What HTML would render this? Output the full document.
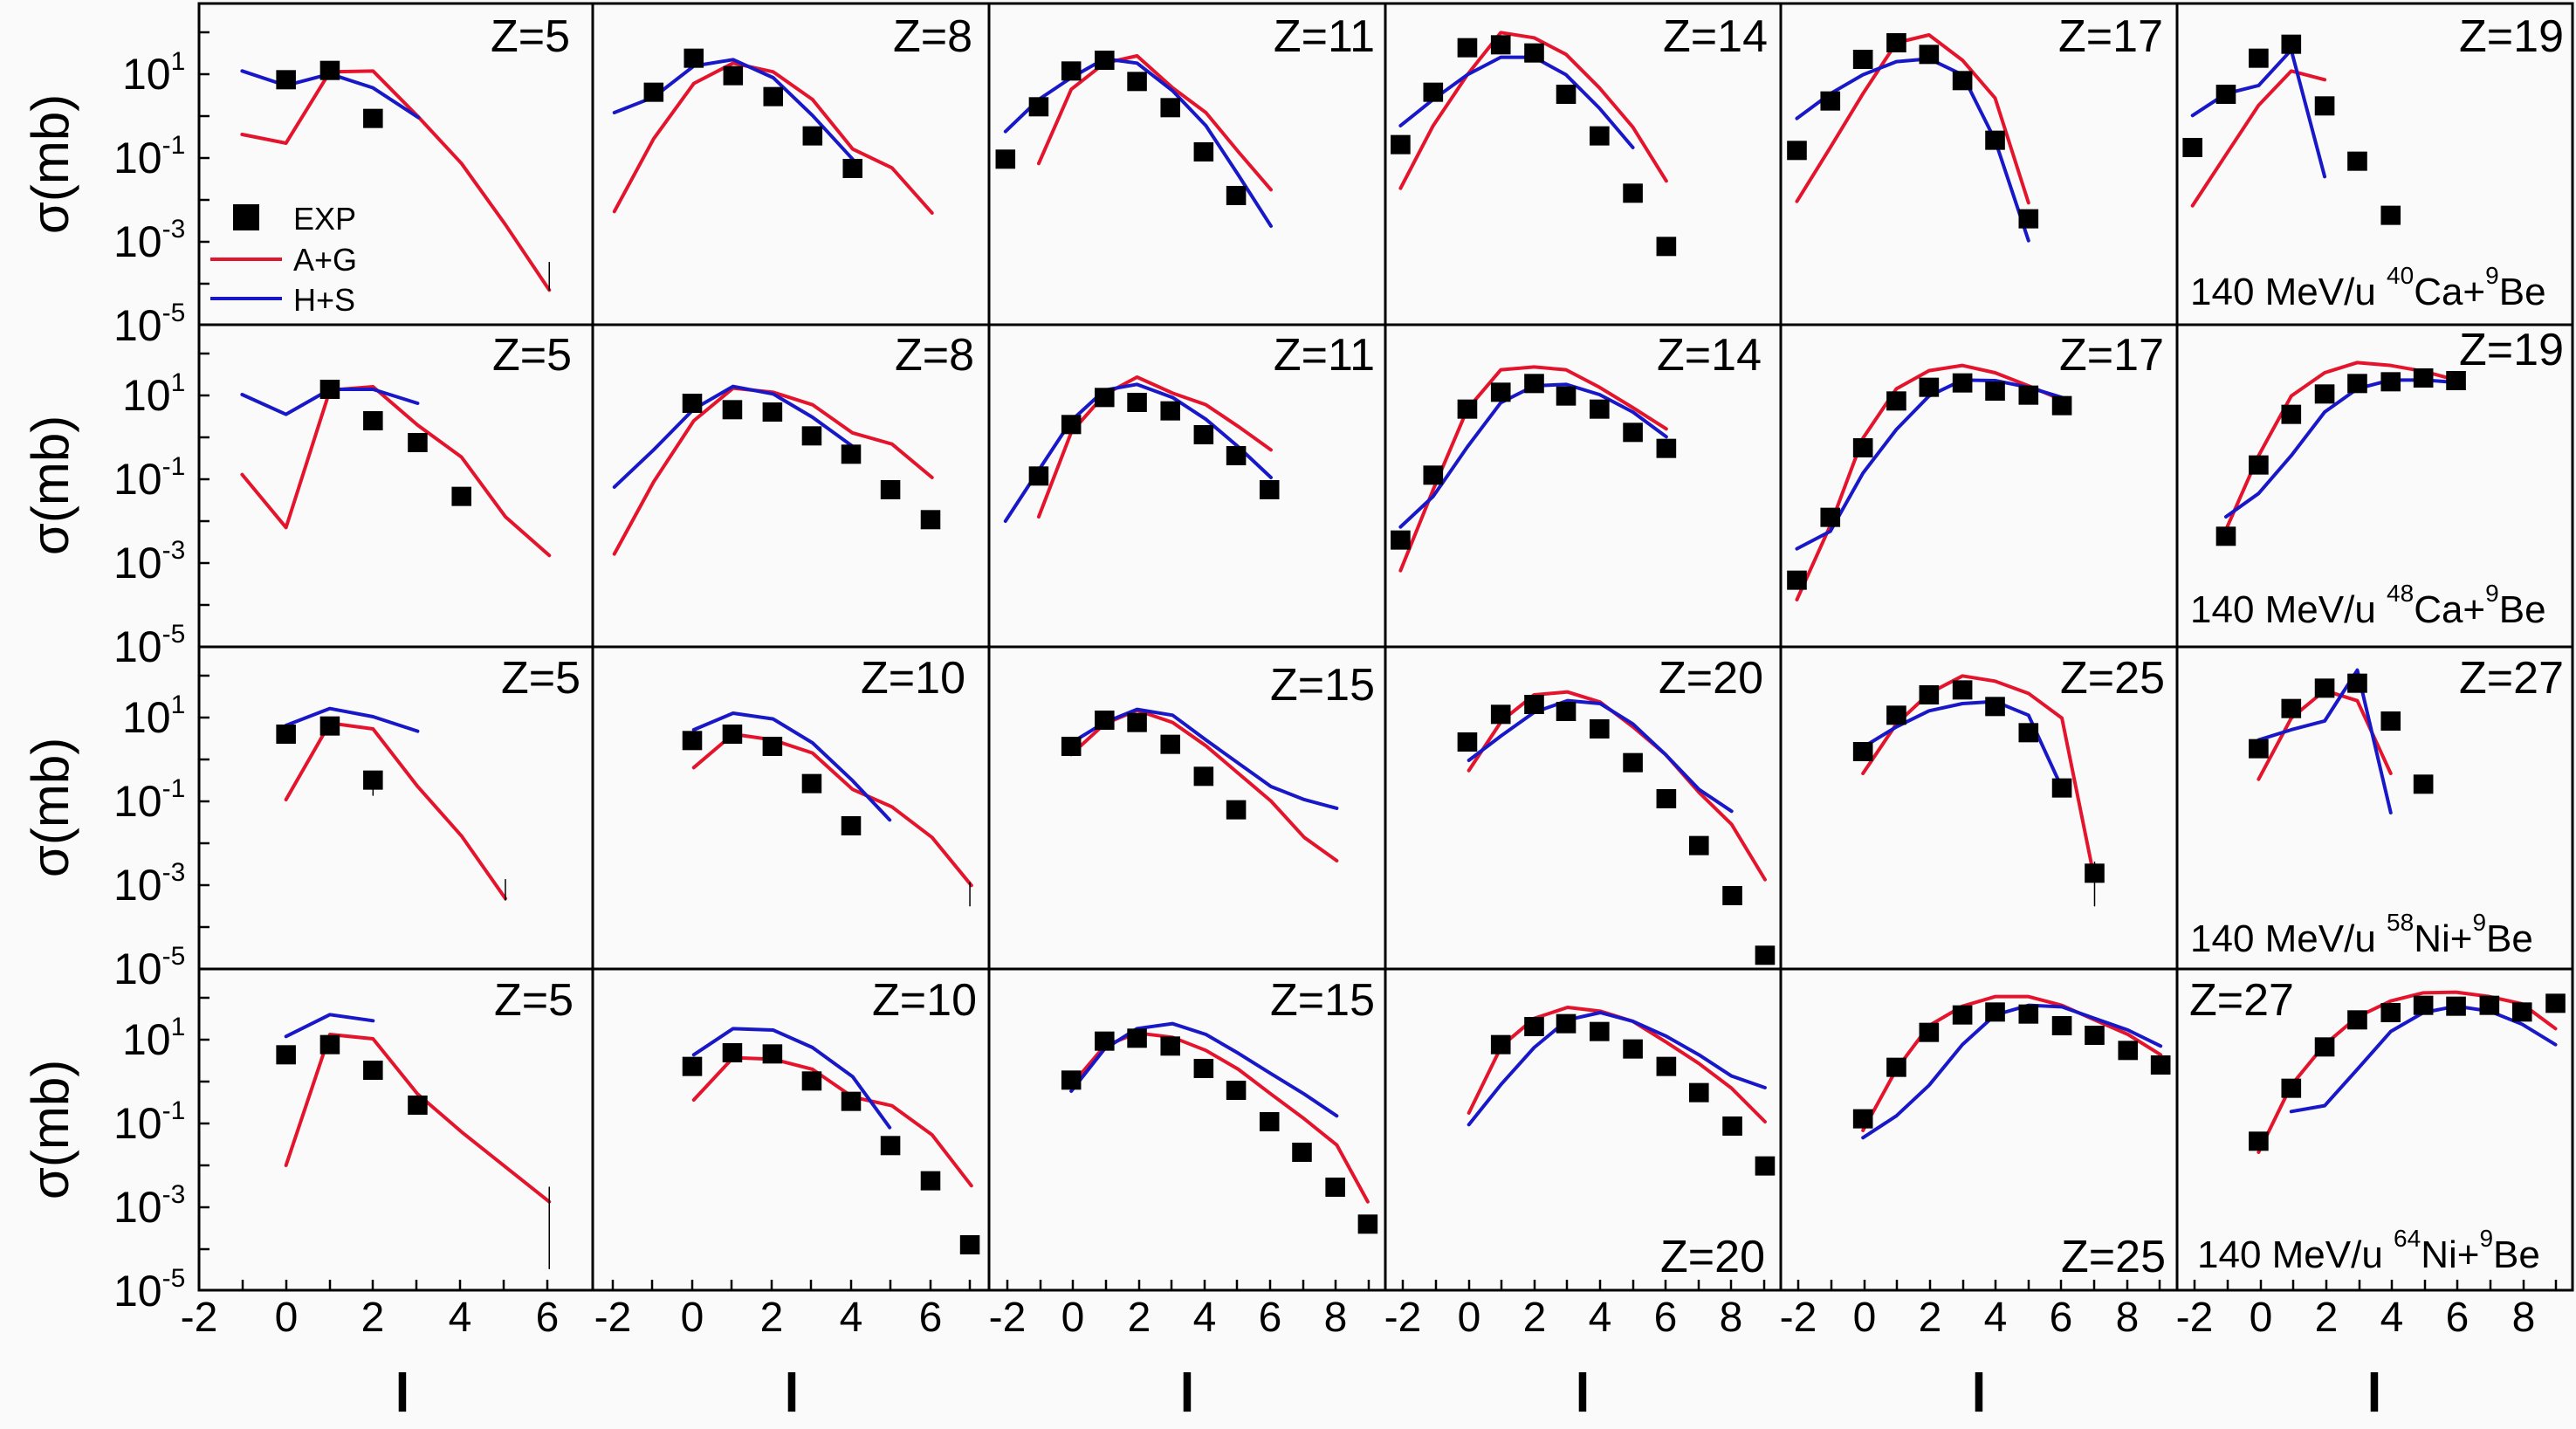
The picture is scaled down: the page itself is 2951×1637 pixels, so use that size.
<!DOCTYPE html>
<html><head><meta charset="utf-8"><style>
html,body{margin:0;padding:0;background:#fafafa;}
svg{display:block;}
text{font-family:"Liberation Sans",Arial,sans-serif;fill:#000;}
</style></head><body>
<svg width="2951" height="1637" viewBox="0 0 2951 1637" xmlns="http://www.w3.org/2000/svg">
<defs>
<rect id="sq" x="-13" y="-33" width="26" height="66" fill="#000"/>
</defs>
<rect x="0" y="0" width="2951" height="1637" fill="#fafafa"/>
<g fill="none" stroke-linejoin="round" stroke-linecap="round">
<g transform="translate(228,4) scale(0.8666,0.3333)">
<polyline vector-effect="non-scaling-stroke" stroke="#e3142c" stroke-width="4" points="57,450 115,480 173,235 230,232 290,390 347,550 405,760 463,985"/>
<polyline vector-effect="non-scaling-stroke" stroke="#1818c8" stroke-width="4" points="57,232 115,282 173,242 230,290 290,392"/>
<line vector-effect="non-scaling-stroke" stroke="#000" stroke-width="1.5" x1="463" y1="890" x2="463" y2="985"/>
<polyline vector-effect="non-scaling-stroke" stroke="#e3142c" stroke-width="4" points="549,715 601,465 654,275 706,205 759,235 811,330 864,500 916,565 969,720"/>
<polyline vector-effect="non-scaling-stroke" stroke="#1818c8" stroke-width="4" points="549,375 601,322 654,215 706,193 759,255 811,385 864,535"/>
<polyline vector-effect="non-scaling-stroke" stroke="#e3142c" stroke-width="4" points="1110,550 1153,295 1197,205 1240,180 1287,290 1331,375 1374,510 1417,640"/>
<polyline vector-effect="non-scaling-stroke" stroke="#1818c8" stroke-width="4" points="1066,440 1110,330 1153,255 1197,190 1240,205 1287,300 1331,420 1374,590 1417,765"/>
<g stroke="none">
<use href="#sq" x="115" y="262"/><use href="#sq" x="173" y="230"/><use href="#sq" x="230" y="395"/>
<use href="#sq" x="601" y="305"/><use href="#sq" x="654" y="188"/><use href="#sq" x="706" y="248"/><use href="#sq" x="759" y="320"/><use href="#sq" x="811" y="455"/><use href="#sq" x="864" y="567"/>
<use href="#sq" x="1066" y="535"/><use href="#sq" x="1110" y="355"/><use href="#sq" x="1153" y="232"/><use href="#sq" x="1197" y="195"/><use href="#sq" x="1240" y="268"/><use href="#sq" x="1284" y="358"/><use href="#sq" x="1328" y="510"/><use href="#sq" x="1371" y="660"/>
</g>
</g>
<g transform="translate(1587,4) scale(0.8699,0.3333)">
<polyline vector-effect="non-scaling-stroke" stroke="#e3142c" stroke-width="4" points="20,635 63,420 108,245 152,100 196,118 238,175 282,290 326,425 370,610"/>
<polyline vector-effect="non-scaling-stroke" stroke="#1818c8" stroke-width="4" points="20,420 63,330 108,245 152,185 196,185 238,245 282,360 326,495"/>
<polyline vector-effect="non-scaling-stroke" stroke="#e3142c" stroke-width="4" points="542,680 586,495 629,310 673,135 716,108 760,195 803,325 847,685"/>
<polyline vector-effect="non-scaling-stroke" stroke="#1818c8" stroke-width="4" points="542,395 586,310 629,245 673,200 716,190 760,245 803,470 847,815"/>
<polyline vector-effect="non-scaling-stroke" stroke="#e3142c" stroke-width="4" points="1063,695 1107,520 1150,350 1193,232 1237,262"/>
<polyline vector-effect="non-scaling-stroke" stroke="#1818c8" stroke-width="4" points="1063,385 1107,310 1150,282 1193,160 1237,595"/>
<g stroke="none">
<use href="#sq" x="20" y="485"/><use href="#sq" x="63" y="305"/><use href="#sq" x="108" y="152"/><use href="#sq" x="152" y="142"/><use href="#sq" x="196" y="170"/><use href="#sq" x="238" y="312"/><use href="#sq" x="282" y="455"/><use href="#sq" x="326" y="652"/><use href="#sq" x="370" y="835"/>
<use href="#sq" x="542" y="505"/><use href="#sq" x="586" y="335"/><use href="#sq" x="629" y="192"/><use href="#sq" x="673" y="135"/><use href="#sq" x="716" y="175"/><use href="#sq" x="760" y="265"/><use href="#sq" x="803" y="470"/><use href="#sq" x="847" y="740"/>
<use href="#sq" x="1063" y="495"/><use href="#sq" x="1107" y="312"/><use href="#sq" x="1150" y="188"/><use href="#sq" x="1193" y="140"/><use href="#sq" x="1237" y="352"/><use href="#sq" x="1280" y="542"/><use href="#sq" x="1324" y="728"/>
</g>
</g>
<g transform="translate(228,372) scale(0.8666,0.3333)">
<polyline vector-effect="non-scaling-stroke" stroke="#e3142c" stroke-width="4" points="57,515 115,697 173,225 230,213 289,345 347,455 405,660 463,793"/>
<polyline vector-effect="non-scaling-stroke" stroke="#1818c8" stroke-width="4" points="57,240 115,308 173,222 230,222 289,270"/>
<polyline vector-effect="non-scaling-stroke" stroke="#e3142c" stroke-width="4" points="549,788 601,540 654,330 706,218 759,232 811,275 864,372 916,410 969,525"/>
<polyline vector-effect="non-scaling-stroke" stroke="#1818c8" stroke-width="4" points="549,558 601,430 654,290 706,212 759,238 811,318 864,418"/>
<polyline vector-effect="non-scaling-stroke" stroke="#e3142c" stroke-width="4" points="1110,660 1153,370 1197,240 1240,180 1287,235 1331,275 1374,350 1417,430"/>
<polyline vector-effect="non-scaling-stroke" stroke="#1818c8" stroke-width="4" points="1066,675 1110,500 1153,330 1197,225 1240,205 1287,250 1331,325 1374,420 1417,525"/>
<g stroke="none">
<use href="#sq" x="173" y="222"/><use href="#sq" x="230" y="330"/><use href="#sq" x="289" y="405"/><use href="#sq" x="347" y="590"/>
<use href="#sq" x="652" y="270"/><use href="#sq" x="705" y="292"/><use href="#sq" x="758" y="300"/><use href="#sq" x="810" y="382"/><use href="#sq" x="862" y="445"/><use href="#sq" x="914" y="567"/><use href="#sq" x="967" y="670"/>
<use href="#sq" x="1110" y="520"/><use href="#sq" x="1153" y="343"/><use href="#sq" x="1197" y="250"/><use href="#sq" x="1240" y="267"/><use href="#sq" x="1284" y="296"/><use href="#sq" x="1328" y="378"/><use href="#sq" x="1371" y="450"/><use href="#sq" x="1415" y="567"/>
</g>
</g>
<g transform="translate(1587,372) scale(0.8699,0.3333)">
<polyline vector-effect="non-scaling-stroke" stroke="#e3142c" stroke-width="4" points="20,845 63,567 108,290 152,155 196,145 238,155 282,215 326,285 370,358"/>
<polyline vector-effect="non-scaling-stroke" stroke="#1818c8" stroke-width="4" points="20,695 63,590 108,420 152,268 196,210 238,205 282,240 326,300 370,385"/>
<polyline vector-effect="non-scaling-stroke" stroke="#e3142c" stroke-width="4" points="542,945 586,690 629,390 673,220 716,158 760,140 803,165 847,210 891,258"/>
<polyline vector-effect="non-scaling-stroke" stroke="#1818c8" stroke-width="4" points="542,770 586,710 629,510 673,360 716,245 760,190 803,192 847,215 891,250"/>
<polyline vector-effect="non-scaling-stroke" stroke="#e3142c" stroke-width="4" points="1107,705 1150,450 1193,245 1237,165 1280,130 1324,140 1367,160 1410,190"/>
<polyline vector-effect="non-scaling-stroke" stroke="#1818c8" stroke-width="4" points="1107,660 1150,580 1193,450 1237,300 1280,220 1324,190 1367,190 1410,198"/>
<g stroke="none">
<use href="#sq" x="20" y="740"/><use href="#sq" x="63" y="517"/><use href="#sq" x="108" y="290"/><use href="#sq" x="152" y="232"/><use href="#sq" x="196" y="202"/><use href="#sq" x="238" y="245"/><use href="#sq" x="282" y="290"/><use href="#sq" x="326" y="370"/><use href="#sq" x="370" y="425"/>
<use href="#sq" x="542" y="878"/><use href="#sq" x="586" y="662"/><use href="#sq" x="629" y="423"/><use href="#sq" x="673" y="262"/><use href="#sq" x="716" y="215"/><use href="#sq" x="760" y="200"/><use href="#sq" x="803" y="228"/><use href="#sq" x="847" y="242"/><use href="#sq" x="891" y="278"/>
<use href="#sq" x="1107" y="727"/><use href="#sq" x="1150" y="482"/><use href="#sq" x="1193" y="308"/><use href="#sq" x="1237" y="238"/><use href="#sq" x="1280" y="202"/><use href="#sq" x="1324" y="196"/><use href="#sq" x="1367" y="183"/><use href="#sq" x="1410" y="192"/>
</g>
</g>
<g transform="translate(228,741) scale(0.8666,0.3333)">
<polyline vector-effect="non-scaling-stroke" stroke="#e3142c" stroke-width="4" points="115,525 173,262 230,282 289,480 347,650 405,865"/>
<polyline vector-effect="non-scaling-stroke" stroke="#1818c8" stroke-width="4" points="115,270 173,212 230,240 289,290"/>
<line vector-effect="non-scaling-stroke" stroke="#000" stroke-width="1.5" x1="405" y1="800" x2="405" y2="870"/>
<line vector-effect="non-scaling-stroke" stroke="#000" stroke-width="1.5" x1="230" y1="458" x2="230" y2="510"/>
<polyline vector-effect="non-scaling-stroke" stroke="#e3142c" stroke-width="4" points="654,415 706,300 759,320 811,365 864,490 916,550 969,655 1021,820"/>
<polyline vector-effect="non-scaling-stroke" stroke="#1818c8" stroke-width="4" points="654,285 706,228 759,248 811,330 864,460 913,595"/>
<line vector-effect="non-scaling-stroke" stroke="#000" stroke-width="1.5" x1="1019" y1="810" x2="1019" y2="890"/>
<polyline vector-effect="non-scaling-stroke" stroke="#e3142c" stroke-width="4" points="1153,370 1197,265 1240,218 1287,260 1331,340 1374,435 1417,530 1461,655 1504,735"/>
<polyline vector-effect="non-scaling-stroke" stroke="#1818c8" stroke-width="4" points="1153,330 1197,260 1240,215 1287,235 1331,320 1374,400 1417,480 1461,525 1504,555"/>
<g stroke="none">
<use href="#sq" x="115" y="300"/><use href="#sq" x="173" y="272"/><use href="#sq" x="230" y="458"/>
<use href="#sq" x="652" y="322"/><use href="#sq" x="705" y="300"/><use href="#sq" x="758" y="342"/><use href="#sq" x="810" y="470"/><use href="#sq" x="862" y="615"/>
<use href="#sq" x="1153" y="342"/><use href="#sq" x="1197" y="252"/><use href="#sq" x="1240" y="260"/><use href="#sq" x="1284" y="335"/><use href="#sq" x="1328" y="445"/><use href="#sq" x="1371" y="560"/>
</g>
</g>
<g transform="translate(1587,741) scale(0.8699,0.3333)">
<polyline vector-effect="non-scaling-stroke" stroke="#e3142c" stroke-width="4" points="110,425 153,255 196,165 240,155 283,190 326,275 369,370 413,500 456,610 500,800"/>
<polyline vector-effect="non-scaling-stroke" stroke="#1818c8" stroke-width="4" points="110,390 153,305 196,225 240,185 283,195 326,265 369,370 413,490 456,565"/>
<polyline vector-effect="non-scaling-stroke" stroke="#e3142c" stroke-width="4" points="629,435 673,265 716,160 760,100 803,118 847,160 891,245 934,800"/>
<polyline vector-effect="non-scaling-stroke" stroke="#1818c8" stroke-width="4" points="629,345 673,275 716,220 760,195 803,188 847,235 891,485"/>
<line vector-effect="non-scaling-stroke" stroke="#000" stroke-width="1.5" x1="934" y1="740" x2="934" y2="890"/>
<polyline vector-effect="non-scaling-stroke" stroke="#e3142c" stroke-width="4" points="1150,455 1193,245 1237,150 1280,185 1324,435"/>
<polyline vector-effect="non-scaling-stroke" stroke="#1818c8" stroke-width="4" points="1150,320 1193,285 1237,255 1280,80 1324,570"/>
<g stroke="none">
<use href="#sq" x="108" y="327"/><use href="#sq" x="152" y="232"/><use href="#sq" x="196" y="198"/><use href="#sq" x="238" y="222"/><use href="#sq" x="282" y="282"/><use href="#sq" x="326" y="398"/><use href="#sq" x="370" y="522"/><use href="#sq" x="413" y="683"/><use href="#sq" x="457" y="855"/><use href="#sq" x="500" y="1060"/>
<use href="#sq" x="629" y="360"/><use href="#sq" x="673" y="235"/><use href="#sq" x="716" y="165"/><use href="#sq" x="760" y="148"/><use href="#sq" x="803" y="205"/><use href="#sq" x="847" y="295"/><use href="#sq" x="891" y="485"/><use href="#sq" x="934" y="778"/>
<use href="#sq" x="1150" y="350"/><use href="#sq" x="1193" y="212"/><use href="#sq" x="1237" y="142"/><use href="#sq" x="1280" y="125"/><use href="#sq" x="1324" y="255"/><use href="#sq" x="1367" y="472"/>
</g>
</g>
<g transform="translate(228,1110) scale(0.8666,0.3333)">
<polyline vector-effect="non-scaling-stroke" stroke="#e3142c" stroke-width="4" points="115,675 173,225 230,240 289,430 347,560 405,680 463,800"/>
<polyline vector-effect="non-scaling-stroke" stroke="#1818c8" stroke-width="4" points="115,232 173,157 230,178"/>
<line vector-effect="non-scaling-stroke" stroke="#000" stroke-width="1.5" x1="463" y1="750" x2="463" y2="1030"/>
<polyline vector-effect="non-scaling-stroke" stroke="#e3142c" stroke-width="4" points="654,450 706,305 759,310 811,345 864,440 916,470 969,570 1021,745"/>
<polyline vector-effect="non-scaling-stroke" stroke="#1818c8" stroke-width="4" points="654,295 706,205 759,210 811,270 864,370 913,545"/>
<polyline vector-effect="non-scaling-stroke" stroke="#e3142c" stroke-width="4" points="1153,400 1197,265 1240,220 1287,235 1331,280 1374,345 1417,430 1461,515 1504,605 1545,800"/>
<polyline vector-effect="non-scaling-stroke" stroke="#1818c8" stroke-width="4" points="1153,420 1197,275 1240,205 1287,188 1331,225 1374,290 1417,360 1461,430 1504,505"/>
<g stroke="none">
<use href="#sq" x="115" y="295"/><use href="#sq" x="173" y="260"/><use href="#sq" x="230" y="348"/><use href="#sq" x="289" y="468"/>
<use href="#sq" x="652" y="335"/><use href="#sq" x="705" y="288"/><use href="#sq" x="758" y="292"/><use href="#sq" x="810" y="385"/><use href="#sq" x="862" y="455"/><use href="#sq" x="914" y="607"/><use href="#sq" x="967" y="728"/><use href="#sq" x="1019" y="948"/>
<use href="#sq" x="1153" y="382"/><use href="#sq" x="1197" y="248"/><use href="#sq" x="1240" y="238"/><use href="#sq" x="1284" y="265"/><use href="#sq" x="1328" y="342"/><use href="#sq" x="1371" y="417"/><use href="#sq" x="1415" y="525"/><use href="#sq" x="1458" y="630"/><use href="#sq" x="1502" y="750"/><use href="#sq" x="1545" y="877"/>
</g>
</g>
<g transform="translate(1587,1110) scale(0.8699,0.3333)">
<polyline vector-effect="non-scaling-stroke" stroke="#e3142c" stroke-width="4" points="110,495 153,265 196,170 240,132 283,145 326,180 369,250 413,325 456,410 500,525"/>
<polyline vector-effect="non-scaling-stroke" stroke="#1818c8" stroke-width="4" points="110,535 153,395 196,270 240,175 283,150 326,180 369,230 413,295 456,368 500,408"/>
<polyline vector-effect="non-scaling-stroke" stroke="#e3142c" stroke-width="4" points="629,555 673,345 716,195 760,128 803,95 847,95 891,125 934,175 978,225 1021,295"/>
<polyline vector-effect="non-scaling-stroke" stroke="#1818c8" stroke-width="4" points="629,580 673,505 716,400 760,260 803,158 847,125 891,130 934,170 978,210 1021,265"/>
<polyline vector-effect="non-scaling-stroke" stroke="#e3142c" stroke-width="4" points="1150,630 1193,400 1237,260 1280,165 1324,110 1367,82 1410,80 1454,95 1497,120 1541,205"/>
<polyline vector-effect="non-scaling-stroke" stroke="#1818c8" stroke-width="4" points="1193,490 1237,470 1280,345 1324,215 1367,150 1410,128 1454,145 1497,190 1541,260"/>
<g stroke="none">
<use href="#sq" x="152" y="260"/><use href="#sq" x="196" y="198"/><use href="#sq" x="238" y="188"/><use href="#sq" x="282" y="215"/><use href="#sq" x="326" y="275"/><use href="#sq" x="370" y="335"/><use href="#sq" x="413" y="425"/><use href="#sq" x="457" y="540"/><use href="#sq" x="500" y="677"/>
<use href="#sq" x="629" y="515"/><use href="#sq" x="673" y="338"/><use href="#sq" x="716" y="218"/><use href="#sq" x="760" y="158"/><use href="#sq" x="803" y="148"/><use href="#sq" x="847" y="155"/><use href="#sq" x="891" y="195"/><use href="#sq" x="934" y="228"/><use href="#sq" x="978" y="280"/><use href="#sq" x="1021" y="330"/>
<use href="#sq" x="1150" y="592"/><use href="#sq" x="1193" y="410"/><use href="#sq" x="1237" y="268"/><use href="#sq" x="1280" y="175"/><use href="#sq" x="1324" y="150"/><use href="#sq" x="1367" y="125"/><use href="#sq" x="1410" y="128"/><use href="#sq" x="1454" y="125"/><use href="#sq" x="1497" y="148"/><use href="#sq" x="1541" y="118"/>
</g>
</g>
</g>

<g stroke="#000" stroke-width="3" fill="none">
<rect x="228" y="4" width="2719" height="1474"/>
<line x1="679" y1="4" x2="679" y2="1478"/>
<line x1="1133" y1="4" x2="1133" y2="1478"/>
<line x1="1587" y1="4" x2="1587" y2="1478"/>
<line x1="2040" y1="4" x2="2040" y2="1478"/>
<line x1="2494" y1="4" x2="2494" y2="1478"/>
<line x1="228" y1="372" x2="2947" y2="372"/>
<line x1="228" y1="741" x2="2947" y2="741"/>
<line x1="228" y1="1110" x2="2947" y2="1110"/>
</g>
<g stroke="#000" stroke-width="2.5">
<path d="M228,37h12M228,85h12M228,133h12M228,181h12M228,229h12M228,277h12M228,325h12
M228,405h12M228,453h12M228,501h12M228,549h12M228,597h12M228,645h12M228,693h12
M228,774h12M228,822h12M228,870h12M228,918h12M228,966h12M228,1014h12M228,1062h12
M228,1143h12M228,1191h12M228,1239h12M228,1287h12M228,1335h12M228,1383h12M228,1431h12"/>
<path d="M278,1478v-12M328,1478v-12M378,1478v-12M427,1478v-12M477,1478v-12M527,1478v-12M577,1478v-12M627,1478v-12
M702,1478v-12M747,1478v-12M793,1478v-12M838,1478v-12M884,1478v-12M929,1478v-12M975,1478v-12M1020,1478v-12M1066,1478v-12M1111,1478v-12
M1154,1478v-12M1192,1478v-12M1229,1478v-12M1267,1478v-12M1305,1478v-12M1342,1478v-12M1380,1478v-12M1417,1478v-12M1455,1478v-12M1493,1478v-12M1530,1478v-12M1568,1478v-12
M1607,1478v-12M1645,1478v-12M1683,1478v-12M1720,1478v-12M1758,1478v-12M1795,1478v-12M1833,1478v-12M1871,1478v-12M1908,1478v-12M1946,1478v-12M1983,1478v-12M2021,1478v-12
M2060,1478v-12M2098,1478v-12M2136,1478v-12M2173,1478v-12M2211,1478v-12M2249,1478v-12M2286,1478v-12M2324,1478v-12M2361,1478v-12M2399,1478v-12M2437,1478v-12M2474,1478v-12
M2514,1478v-12M2552,1478v-12M2590,1478v-12M2627,1478v-12M2665,1478v-12M2703,1478v-12M2740,1478v-12M2778,1478v-12M2815,1478v-12M2853,1478v-12M2891,1478v-12M2928,1478v-12"/>
</g>

<g font-size="50">
<text x="140" y="102">10<tspan font-size="30" dy="-22">1</tspan></text>
<text x="130" y="198">10<tspan font-size="30" dy="-22">-1</tspan></text>
<text x="130" y="294">10<tspan font-size="30" dy="-22">-3</tspan></text>
<text x="130" y="390">10<tspan font-size="30" dy="-22">-5</tspan></text>
<text x="140" y="470">10<tspan font-size="30" dy="-22">1</tspan></text>
<text x="130" y="566">10<tspan font-size="30" dy="-22">-1</tspan></text>
<text x="130" y="662">10<tspan font-size="30" dy="-22">-3</tspan></text>
<text x="130" y="758">10<tspan font-size="30" dy="-22">-5</tspan></text>
<text x="140" y="839">10<tspan font-size="30" dy="-22">1</tspan></text>
<text x="130" y="935">10<tspan font-size="30" dy="-22">-1</tspan></text>
<text x="130" y="1031">10<tspan font-size="30" dy="-22">-3</tspan></text>
<text x="130" y="1127">10<tspan font-size="30" dy="-22">-5</tspan></text>
<text x="140" y="1208">10<tspan font-size="30" dy="-22">1</tspan></text>
<text x="130" y="1304">10<tspan font-size="30" dy="-22">-1</tspan></text>
<text x="130" y="1400">10<tspan font-size="30" dy="-22">-3</tspan></text>
<text x="130" y="1496">10<tspan font-size="30" dy="-22">-5</tspan></text>
</g>
<g font-size="60">
<text transform="translate(78,188) rotate(-90)" text-anchor="middle">σ(mb)</text>
<text transform="translate(78,556) rotate(-90)" text-anchor="middle">σ(mb)</text>
<text transform="translate(78,925) rotate(-90)" text-anchor="middle">σ(mb)</text>
<text transform="translate(78,1294) rotate(-90)" text-anchor="middle">σ(mb)</text>
</g>
<g font-size="48" text-anchor="middle">
<text x="228" y="1525">-2</text><text x="328" y="1525">0</text><text x="427" y="1525">2</text><text x="527" y="1525">4</text><text x="627" y="1525">6</text>
<text x="702" y="1525">-2</text><text x="793" y="1525">0</text><text x="884" y="1525">2</text><text x="975" y="1525">4</text><text x="1066" y="1525">6</text>
<text x="1154" y="1525">-2</text><text x="1229" y="1525">0</text><text x="1305" y="1525">2</text><text x="1380" y="1525">4</text><text x="1455" y="1525">6</text><text x="1530" y="1525">8</text>
<text x="1607" y="1525">-2</text><text x="1683" y="1525">0</text><text x="1758" y="1525">2</text><text x="1833" y="1525">4</text><text x="1908" y="1525">6</text><text x="1983" y="1525">8</text>
<text x="2060" y="1525">-2</text><text x="2136" y="1525">0</text><text x="2211" y="1525">2</text><text x="2286" y="1525">4</text><text x="2361" y="1525">6</text><text x="2437" y="1525">8</text>
<text x="2514" y="1525">-2</text><text x="2590" y="1525">0</text><text x="2665" y="1525">2</text><text x="2740" y="1525">4</text><text x="2815" y="1525">6</text><text x="2891" y="1525">8</text>
</g>
<g font-size="62" font-weight="bold" text-anchor="middle">
<text x="461" y="1617">l</text><text x="907" y="1617">l</text><text x="1360" y="1617">l</text>
<text x="1813" y="1617">l</text><text x="2267" y="1617">l</text><text x="2720" y="1617">l</text>
</g>
<g font-size="52" text-anchor="end">
<text x="653" y="59">Z=5</text><text x="1114" y="59">Z=8</text><text x="1575" y="59">Z=11</text>
<text x="2025" y="59">Z=14</text><text x="2478" y="59">Z=17</text><text x="2937" y="59">Z=19</text>
<text x="655" y="424">Z=5</text><text x="1116" y="424">Z=8</text><text x="1575" y="424">Z=11</text>
<text x="2018" y="424">Z=14</text><text x="2479" y="424">Z=17</text><text x="2937" y="418">Z=19</text>
<text x="665" y="794">Z=5</text><text x="1106" y="794">Z=10</text><text x="1575" y="802">Z=15</text>
<text x="2020" y="794">Z=20</text><text x="2480" y="794">Z=25</text><text x="2937" y="794">Z=27</text>
<text x="657" y="1163">Z=5</text><text x="1119" y="1163">Z=10</text><text x="1575" y="1163">Z=15</text>
<text x="2022" y="1457">Z=20</text><text x="2481" y="1457">Z=25</text><text x="2508" y="1163" text-anchor="start">Z=27</text>
</g>
<g font-size="44">
<text x="2509" y="349">140 MeV/u <tspan font-size="28" dy="-24">40</tspan><tspan dy="24">Ca+</tspan><tspan font-size="28" dy="-24">9</tspan><tspan dy="24">Be</tspan></text>
<text x="2509" y="713">140 MeV/u <tspan font-size="28" dy="-24">48</tspan><tspan dy="24">Ca+</tspan><tspan font-size="28" dy="-24">9</tspan><tspan dy="24">Be</tspan></text>
<text x="2509" y="1090">140 MeV/u <tspan font-size="28" dy="-24">58</tspan><tspan dy="24">Ni+</tspan><tspan font-size="28" dy="-24">9</tspan><tspan dy="24">Be</tspan></text>
<text x="2517" y="1452">140 MeV/u <tspan font-size="28" dy="-24">64</tspan><tspan dy="24">Ni+</tspan><tspan font-size="28" dy="-24">9</tspan><tspan dy="24">Be</tspan></text>
</g>
<rect x="267" y="234" width="30" height="30" fill="#000"/>
<text x="336" y="263" font-size="36">EXP</text>
<line x1="241" y1="297" x2="323" y2="297" stroke="#e3142c" stroke-width="4"/>
<text x="336" y="310" font-size="36">A+G</text>
<line x1="241" y1="342" x2="323" y2="342" stroke="#1818c8" stroke-width="4"/>
<text x="336" y="356" font-size="36">H+S</text>
</svg>
</body></html>
